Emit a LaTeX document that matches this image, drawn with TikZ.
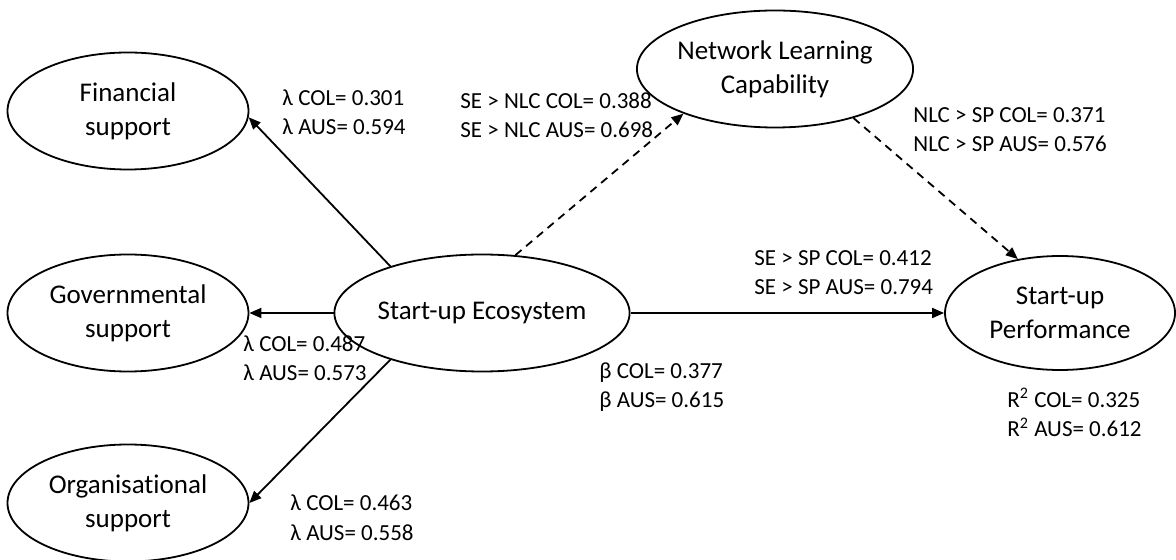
\documentclass[tikz,border=0pt]{standalone}
\usepackage{fontspec}
\setmainfont{Carlito}[Ligatures=NoCommon]
\usepackage{tikz}
\usetikzlibrary{shapes.geometric, arrows.meta}

\begin{document}
\begin{tikzpicture}[
    x=0.5pt, y=-0.5pt,
    latent/.style={ellipse, draw, line width=0.9pt, minimum width=120.5pt, minimum height=58.5pt, inner sep=0pt, align=center, font=\fontsize{13.5}{17}\selectfont},
    solid_arrow/.style={-{Triangle[length=6pt, width=5pt]}, line width=0.9pt},
    dashed_arrow/.style={solid_arrow, dash pattern=on 4pt off 3pt},
    coef_style/.style={anchor=base west, inner sep=0pt, align=left, font=\fontsize{11.5}{14.75}\selectfont}
]
    \useasboundingbox (0,0) rectangle (1176,560);
    \fill[white] (0,0) rectangle (1176,560);

    % Constructs
    \node[latent] (FS) at (128,111) {Financial\\support};
    \node[latent] (GS) at (128,313) {Governmental\\support};
    \node[latent] (OS) at (128,503) {Organisational\\support};
    \node[latent] (SE) at (482,313) {Start-up Ecosystem};
    \node[latent] (NLC) at (775,69) {Network Learning\\Capability};
    \node[latent, minimum width=115pt, minimum height=57pt] (SP) at (1060,313) {Start-up\\Performance};

    % Paths
    \draw[solid_arrow] (SE.153) -- (FS.-3);
    \draw[solid_arrow] (SE.west) -- (GS.east);
    \draw[solid_arrow] (SE.207) -- (OS.east);
    \draw[dashed_arrow] (SE.60) -- (NLC.206);
    \draw[dashed_arrow] (NLC.-32) -- (SP.128);
    \draw[solid_arrow] (SE.east) -- (SP.west);

    % Coefficients (placed at the baseline of the second line)
    \node[coef_style] (c_fs) at (282,135) {λ COL= 0.301\\λ AUS= 0.594};
    \node[coef_style] (c_gs) at (243,381) {λ COL= 0.487\\λ AUS= 0.573};
    \node[coef_style] (c_os) at (290,540) {λ COL= 0.463\\λ AUS= 0.558};
    \node[coef_style] (c_nlc) at (460,138) {SE > NLC COL= 0.388\\SE > NLC AUS= 0.698};
    \node[coef_style] (c_nlcsp) at (913,152) {NLC > SP COL= 0.371\\NLC > SP AUS= 0.576};
    \node[coef_style] (c_sesp) at (754,295) {SE > SP COL= 0.412\\SE > SP AUS= 0.794};
    \node[coef_style] (c_beta) at (599,408) {β COL= 0.377\\β AUS= 0.615};
    \node[coef_style] (c_r2) at (1007,437) {R\textsuperscript{2} COL= 0.325\\R\textsuperscript{2} AUS= 0.612};
\end{tikzpicture}
\end{document}
